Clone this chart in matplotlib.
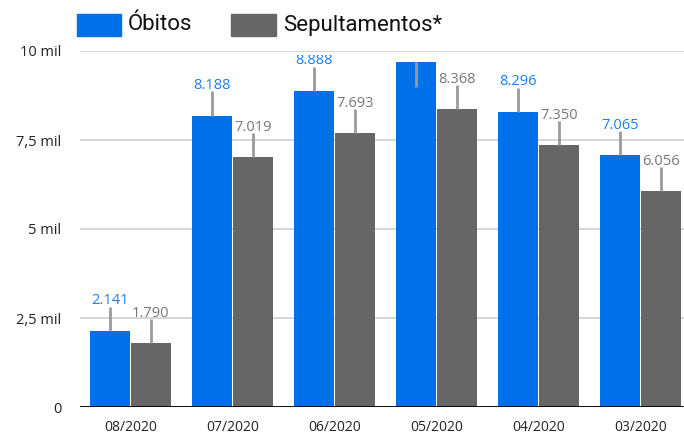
import matplotlib.pyplot as plt
from matplotlib.patches import Rectangle
import numpy as np

# Data (in thousands)
meses = ["08/2020", "07/2020", "06/2020", "05/2020", "04/2020", "03/2020"]
obitos = [2.141, 8.188, 8.888, 9.690, 8.296, 7.065]
sepultamentos = [1.790, 7.019, 7.693, 8.368, 7.350, 6.056]
obitos_txt = ["2.141", "8.188", "8.888", "9.690", "8.296", "7.065"]
sepult_txt = ["1.790", "7.019", "7.693", "8.368", "7.350", "6.056"]
yticks = [0, 2.5, 5, 7.5, 10]
ytick_labels = ["0", "2,5 mil", "5 mil", "7,5 mil", "10 mil"]

azul = "#0070e8"
cinza = "#666666"
azul_txt = "#1a7ff0"
cinza_txt = "#777777"
linha = "#9a9a9a"

W, H = 684, 436
fig = plt.figure(figsize=(W / 100, H / 100), dpi=100)
ax = fig.add_axes([79.5 / W, 1 - 407 / H, 612 / W, (407 - 51) / H])

x = np.arange(len(meses))
ax.bar(x - 0.2, obitos, width=0.397, color=azul, zorder=2)
ax.bar(x + 0.2, sepultamentos, width=0.397, color=cinza, zorder=2)

ax.set_xlim(-0.5, len(meses) - 0.5)
ax.set_ylim(0, 10)

# labels are cut off slightly below the top gridline
clip = Rectangle((-1, -1), 10, 10.9, transform=ax.transData, fill=False)

for i in range(len(meses)):
    for dx, v, txt, cor in [(-0.2, obitos[i], obitos_txt[i], azul_txt),
                            (0.2, sepultamentos[i], sepult_txt[i], cinza_txt)]:
        if v > 9.5:
            ax.vlines(x[i] + dx, v - 0.70, v, color=linha, lw=2, zorder=3)
        else:
            ax.vlines(x[i] + dx, v, v + 0.675, color=linha, lw=2, zorder=3)
        t = ax.text(x[i] + dx, v + 0.74, txt, ha="center", va="baseline",
                    color=cor, fontsize=10.5, family="Open Sans", zorder=4)
        t.set_clip_on(True)
        t.set_clip_path(clip)

ax.set_yticks(yticks)
ax.set_yticklabels(ytick_labels, family="Open Sans", fontsize=10.5, color="#222222")
ax.set_xticks(x)
ax.set_xticklabels(meses, family="Open Sans", fontsize=10, color="#222222")
ax.tick_params(axis="y", length=0, pad=13)
ax.tick_params(axis="x", length=0, pad=9)
ax.grid(axis="y", color="#cccccc", lw=1.1, zorder=0)
for s in ax.spines.values():
    s.set_visible(False)
ax.axhline(0, color="black", lw=2, zorder=3)

# legend
def fig_rect(x0, y0, w, h, cor):
    fig.add_artist(Rectangle((x0 / W, 1 - (y0 + h) / H), w / W, h / H,
                             transform=fig.transFigure, color=cor))

fig_rect(77, 14, 44, 22, azul)
fig.text(128 / W, 1 - 25 / H, "Óbitos", va="center", ha="left",
         family="Roboto", fontsize=16, color="#111111")
fig_rect(231, 14, 45, 22, cinza)
fig.text(283 / W, 1 - 25 / H, "Sepultamentos*", va="center", ha="left",
         family="Roboto", fontsize=16, color="#111111")

fig.savefig("out.png", dpi=100)
